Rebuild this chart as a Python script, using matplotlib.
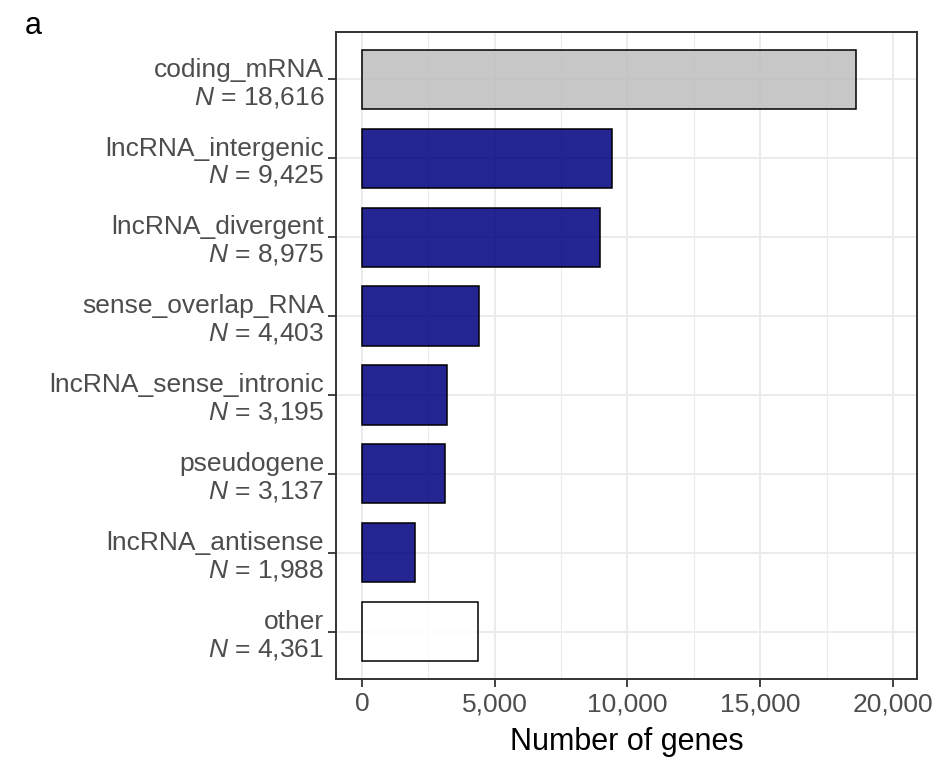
import matplotlib
matplotlib.use("Agg")
import matplotlib.pyplot as plt
from matplotlib.colors import to_rgba
from matplotlib.ticker import FuncFormatter, MultipleLocator

plt.rcParams["font.family"] = "Liberation Sans"
plt.rcParams["mathtext.fontset"] = "custom"
plt.rcParams["mathtext.rm"] = "Liberation Sans"
plt.rcParams["mathtext.it"] = "Liberation Sans:italic"

# gene biotypes, top to bottom
biotypes = [
    "coding_mRNA",
    "lncRNA_intergenic",
    "lncRNA_divergent",
    "sense_overlap_RNA",
    "lncRNA_sense_intronic",
    "pseudogene",
    "lncRNA_antisense",
    "other",
]
gene_counts = [18616, 9425, 8975, 4403, 3195, 3137, 1988, 4361]
fill_colors = ["#BEBEBE", "navy", "navy", "navy", "navy", "navy", "navy", "white"]

BAR_ALPHA = 0.86
TEXT_GREY = "#4D4D4D"
GRID = "#EBEBEB"
TICK_SIZE = 19

fig = plt.figure(figsize=(9.35, 7.59), dpi=100)
ax = fig.add_axes([0.3594, 0.1054, 0.6213, 0.8524])

ypos = list(range(len(biotypes)))
faces = [to_rgba(c, BAR_ALPHA) for c in fill_colors]
ax.barh(ypos, gene_counts, height=0.75, color=faces, edgecolor="black",
        linewidth=1.1, zorder=3)

ax.set_ylim(len(biotypes) - 1 + 0.6, -0.6)
ax.set_xlim(-979, 20904)

labels = [f"{b}\n$\\it{{N}}$ = {n:,}" for b, n in zip(biotypes, gene_counts)]
ax.set_yticks(ypos)
ax.set_yticklabels(labels, fontsize=TICK_SIZE, color=TEXT_GREY, linespacing=1.15)

ax.xaxis.set_major_locator(MultipleLocator(5000))
ax.xaxis.set_minor_locator(MultipleLocator(2500))
ax.xaxis.set_major_formatter(FuncFormatter(lambda v, p: f"{int(v):,}"))

# theme_bw-like grid and border
ax.grid(True, which="major", color=GRID, linewidth=1.4, zorder=0)
ax.grid(True, which="minor", axis="x", color=GRID, linewidth=0.8, zorder=0)
ax.set_axisbelow(True)
for s in ax.spines.values():
    s.set_color("#333333")
    s.set_linewidth(1.4)
ax.tick_params(which="major", length=5.5, width=1.3, color="#333333", pad=3,
               labelsize=TICK_SIZE, labelcolor=TEXT_GREY)
ax.tick_params(axis="x", which="major", pad=4)
ax.tick_params(which="minor", length=0)

ax.set_xlabel("Number of genes", fontsize=22, color="black", labelpad=8)
fig.text(0.027, 0.985, "a", fontsize=22, va="top", ha="left")

fig.savefig("out.png", dpi=100)
